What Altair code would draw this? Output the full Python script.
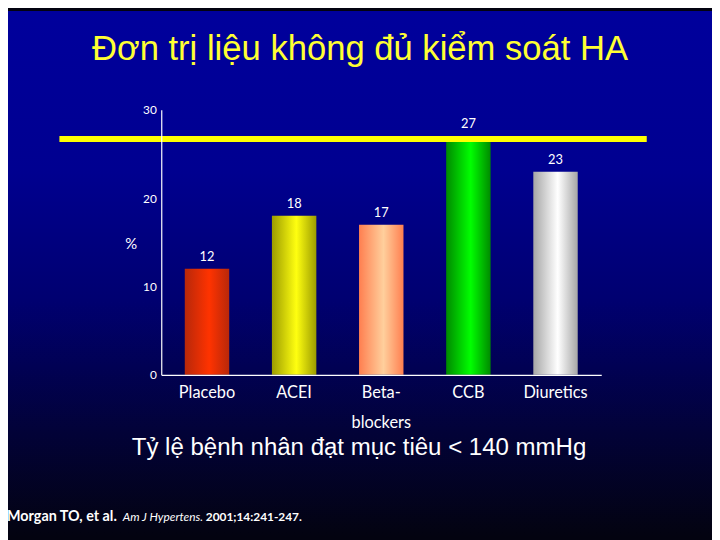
import altair as alt
import pandas as pd

# ---------------- data ----------------
categories = ["Placebo", "ACEI", "Beta-\nblockers", "CCB", "Diuretics"]
values = [12, 18, 17, 27, 23]
edge_colors = ["#b8280a", "#9c9c00", "#ff7f50", "#008a00", "#a6a6a6"]
center_colors = ["#ff3300", "#ffff10", "#ffcf9c", "#00ff00", "#ffffff"]
target_line = [26.7]
y_ticks = [0, 10, 20, 30]

title_text = ["Đơn trị liệu không đủ kiểm soát HA"]
subtitle_text = ["Tỷ lệ bệnh nhân đạt mục tiêu < 140 mmHg"]
citation_parts = ["Morgan TO, et al.", "Am J Hypertens.", "2001;14:241-247."]

df = pd.DataFrame({"idx": list(range(len(categories))), "category": categories, "value": values})

W, H = 445, 268
PAD = {"left": 155, "top": 100, "right": 112, "bottom": 164}

x_scale = alt.Scale(domain=categories, paddingInner=0.49, paddingOuter=0.27)
y_scale = alt.Scale(domain=[0, 30], nice=False)

x_axis = alt.Axis(
    title=None,
    labelExpr="split(datum.label, '\\n')",
    labelColor="white",
    labelFont="Lato",
    labelFontSize=16.5,
    labelAngle=0,
    labelPadding=10,
    labelLineHeight=30,
    ticks=False,
    domainColor="white",
    domainWidth=1.2,
    zindex=1,
)
y_axis = alt.Axis(
    values=y_ticks,
    title="%",
    titleAngle=0,
    titleX=-31,
    titleY=135,
    titleAlign="center",
    titleBaseline="middle",
    titleColor="white",
    titleFont="Lato",
    titleFontSize=15,
    titleFontWeight="normal",
    labelColor="white",
    labelFont="Lato",
    labelFontSize=12,
    labelPadding=5,
    ticks=False,
    grid=False,
    domainColor="white",
    domainWidth=1.2,
    zindex=1,
)

x_enc = alt.X("category:N", scale=x_scale, sort=categories, axis=x_axis)
y_enc = alt.Y("value:Q", scale=y_scale, axis=y_axis)

one = pd.DataFrame({"k": [0]})

bg_gradient = {
    "gradient": "linear", "x1": 0, "y1": 0, "x2": 0, "y2": 1,
    "stops": [
        {"offset": 0.0, "color": "#00009c"},
        {"offset": 0.3, "color": "#000090"},
        {"offset": 0.55, "color": "#000070"},
        {"offset": 0.8, "color": "#020238"},
        {"offset": 1.0, "color": "#030310"},
    ],
}
background = alt.Chart(one).mark_rect(fill=bg_gradient).encode(
    x=alt.value(-PAD["left"]), x2=alt.value(W + PAD["right"]),
    y=alt.value(-PAD["top"]), y2=alt.value(H + PAD["bottom"]),
)

bar_layers = []
for i in range(len(categories)):
    grad = {
        "gradient": "linear", "x1": 0, "y1": 0, "x2": 1, "y2": 0,
        "stops": [
            {"offset": 0.0, "color": edge_colors[i]},
            {"offset": 0.55, "color": center_colors[i]},
            {"offset": 1.0, "color": edge_colors[i]},
        ],
    }
    bar_layers.append(
        alt.Chart(df).transform_filter(alt.datum.idx == i)
        .mark_bar(fill=grad)
        .encode(x=x_enc, y=y_enc)
    )

line = alt.Chart(pd.DataFrame({"target": target_line})).mark_rule(
    color="#ffff00", strokeWidth=6
).encode(y=alt.Y("target:Q", scale=y_scale, axis=y_axis), x=alt.value(-103), x2=alt.value(491))

value_labels = alt.Chart(df).mark_text(
    baseline="bottom", dy=-5, color="white", font="Lato", fontSize=13
).encode(x=x_enc, y=y_enc, text="value:Q")

title = alt.Chart(pd.DataFrame({"t": title_text})).mark_text(
    font="Liberation Sans", fontSize=35, color="#ffff33", align="center", baseline="alphabetic"
).encode(text="t:N", x=alt.value(201), y=alt.value(-50))

subtitle = alt.Chart(pd.DataFrame({"t": subtitle_text})).mark_text(
    font="Liberation Sans", fontSize=24.3, color="white", align="center", baseline="alphabetic"
).encode(text="t:N", x=alt.value(200), y=alt.value(349))

cit1 = alt.Chart(pd.DataFrame({"t": [citation_parts[0]]})).mark_text(
    font="Lato", fontSize=14.5, fontWeight="bold", color="white", align="left", baseline="alphabetic"
).encode(text="t:N", x=alt.value(-156), y=alt.value(416))
cit2 = alt.Chart(pd.DataFrame({"t": [citation_parts[1]]})).mark_text(
    font="Lato", fontSize=12, fontStyle="italic", color="white", align="left", baseline="alphabetic"
).encode(text="t:N", x=alt.value(-39), y=alt.value(416))
cit3 = alt.Chart(pd.DataFrame({"t": [citation_parts[2]]})).mark_text(
    font="Lato", fontSize=12, fontWeight="bold", color="white", align="left", baseline="alphabetic"
).encode(text="t:N", x=alt.value(45), y=alt.value(416))

chart = alt.layer(
    background, *bar_layers, line, value_labels, title, subtitle, cit1, cit2, cit3
).properties(
    width=W, height=H,
    autosize=alt.AutoSizeParams(type="none"),
    padding=PAD,
).configure_view(stroke="transparent").configure(background="#030310")

chart.save("out.html", embed_options={"renderer": "svg", "actions": False})
